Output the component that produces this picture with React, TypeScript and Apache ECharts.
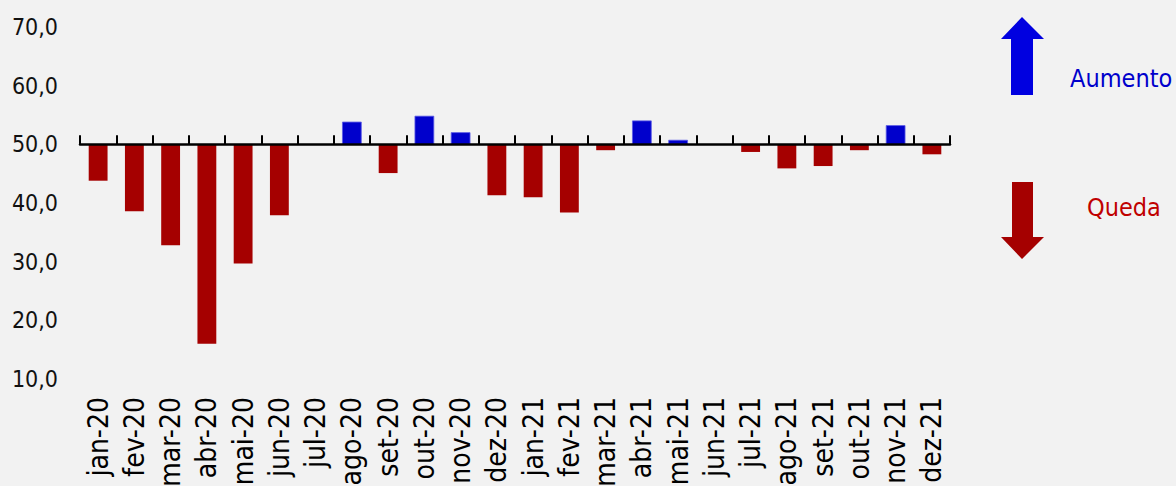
import React, { useEffect, useRef } from "react";
import * as echarts from "echarts";

const categories = [
  "jan-20", "fev-20", "mar-20", "abr-20", "mai-20", "jun-20",
  "jul-20", "ago-20", "set-20", "out-20", "nov-20", "dez-20",
  "jan-21", "fev-21", "mar-21", "abr-21", "mai-21", "jun-21",
  "jul-21", "ago-21", "set-21", "out-21", "nov-21", "dez-21",
];

const values = [
  43.8, 38.6, 32.8, 16.0, 29.7, 37.9,
  50.0, 53.8, 45.1, 54.8, 52.0, 41.3,
  41.0, 38.4, 49.0, 54.0, 50.7, 50.0,
  48.7, 45.9, 46.3, 49.0, 53.2, 48.3,
];

const baseline = 50;
const yMin = 10;
const yMax = 70;
const yInterval = 10;

const legendUp = "Aumento";
const legendDown = "Queda";

const BLUE = "#0000cc";
const RED = "#a50000";
const FONT = "'DejaVu Sans Condensed', 'DejaVu Sans', sans-serif";

export default function App() {
  const ref = useRef<HTMLDivElement>(null);

  useEffect(() => {
    if (!ref.current) return;
    const chart = echarts.init(ref.current, null, { renderer: "svg" });

    const gridLeft = 80;
    const gridWidth = 870;
    const gridTop = 27;
    const gridHeight = 352;
    const upperHeight = (gridHeight * (yMax - baseline)) / (yMax - yMin);

    const option: any = {
      animation: false,
      backgroundColor: "#f2f2f2",
      grid: [
        {
          left: gridLeft, top: gridTop, width: gridWidth, height: gridHeight,
          containLabel: false, outerBoundsMode: "none",
        },
        {
          left: gridLeft, top: gridTop, width: gridWidth, height: upperHeight,
          containLabel: false, outerBoundsMode: "none",
        },
      ],
      xAxis: [
        {
          type: "category",
          gridIndex: 0,
          data: categories,
          position: "bottom",
          boundaryGap: true,
          axisLine: { show: false },
          axisTick: { show: false },
          axisLabel: {
            rotate: 90,
            interval: 0,
            margin: 18,
            color: "#000",
            fontFamily: FONT,
            fontSize: 28,
            hideOverlap: false,
          },
          splitLine: { show: false },
        },
        {
          type: "category",
          gridIndex: 1,
          data: categories,
          position: "bottom",
          boundaryGap: true,
          z: 10,
          axisLine: { show: true, lineStyle: { color: "#000", width: 2.5 } },
          axisTick: {
            show: true,
            inside: true,
            length: 9,
            interval: 0,
            lineStyle: { color: "#000", width: 2 },
          },
          axisLabel: { show: false },
          splitLine: { show: false },
        },
      ],
      yAxis: [
        {
          type: "value",
          gridIndex: 0,
          min: yMin,
          max: yMax,
          interval: yInterval,
          axisLine: { show: false },
          axisTick: { show: false },
          splitLine: { show: false },
          axisLabel: {
            margin: 22,
            color: "#111",
            fontFamily: FONT,
            fontSize: 23,
            formatter: (v: number) => v.toFixed(1).replace(".", ","),
          },
        },
        {
          type: "value",
          gridIndex: 1,
          min: baseline,
          max: yMax,
          show: false,
        },
      ],
      series: [
        {
          type: "custom",
          xAxisIndex: 0,
          yAxisIndex: 0,
          data: values.map((v, i) => [i, v]),
          renderItem: (params: any, api: any) => {
            const idx = api.value(0);
            const v = api.value(1);
            if (v === baseline) return null;
            const p0 = api.coord([idx, baseline]);
            const p1 = api.coord([idx, v]);
            const w = api.size([1, 0])[0] * 0.52;
            const up = v > baseline;
            const y = Math.min(p0[1], p1[1]);
            const h = Math.abs(p1[1] - p0[1]);
            return {
              type: "rect",
              shape: { x: p0[0] - w / 2, y, width: w, height: h },
              style: {
                fill: up ? BLUE : RED,
                stroke: up ? "#5c5ce6" : RED,
                lineWidth: up ? 0.8 : 0,
              },
            };
          },
        },
      ],
      graphic: [
        {
          type: "polygon",
          shape: {
            points: [
              [1022, 17], [1044, 39], [1033, 39], [1033, 95],
              [1011, 95], [1011, 39], [1001, 39],
            ],
          },
          style: { fill: "#0000e0" },
        },
        {
          type: "polygon",
          shape: {
            points: [
              [1012, 182], [1033, 182], [1033, 237], [1044, 237],
              [1022, 259], [1001, 237], [1012, 237],
            ],
          },
          style: { fill: RED },
        },
        {
          type: "text",
          x: 1070,
          y: 78,
          style: {
            text: legendUp,
            fill: "#0000cc",
            font: `25px ${FONT}`,
            textVerticalAlign: "middle",
            verticalAlign: "middle",
          },
        },
        {
          type: "text",
          x: 1087,
          y: 207,
          style: {
            text: legendDown,
            fill: "#c00000",
            font: `25px ${FONT}`,
            textVerticalAlign: "middle",
            verticalAlign: "middle",
          },
        },
      ],
    };

    chart.setOption(option);
    return () => chart.dispose();
  }, []);

  return (
    <div
      ref={ref}
      style={{
        position: "fixed",
        left: 0,
        top: 0,
        width: 1176,
        height: 486,
        overflow: "hidden",
      }}
    />
  );
}
